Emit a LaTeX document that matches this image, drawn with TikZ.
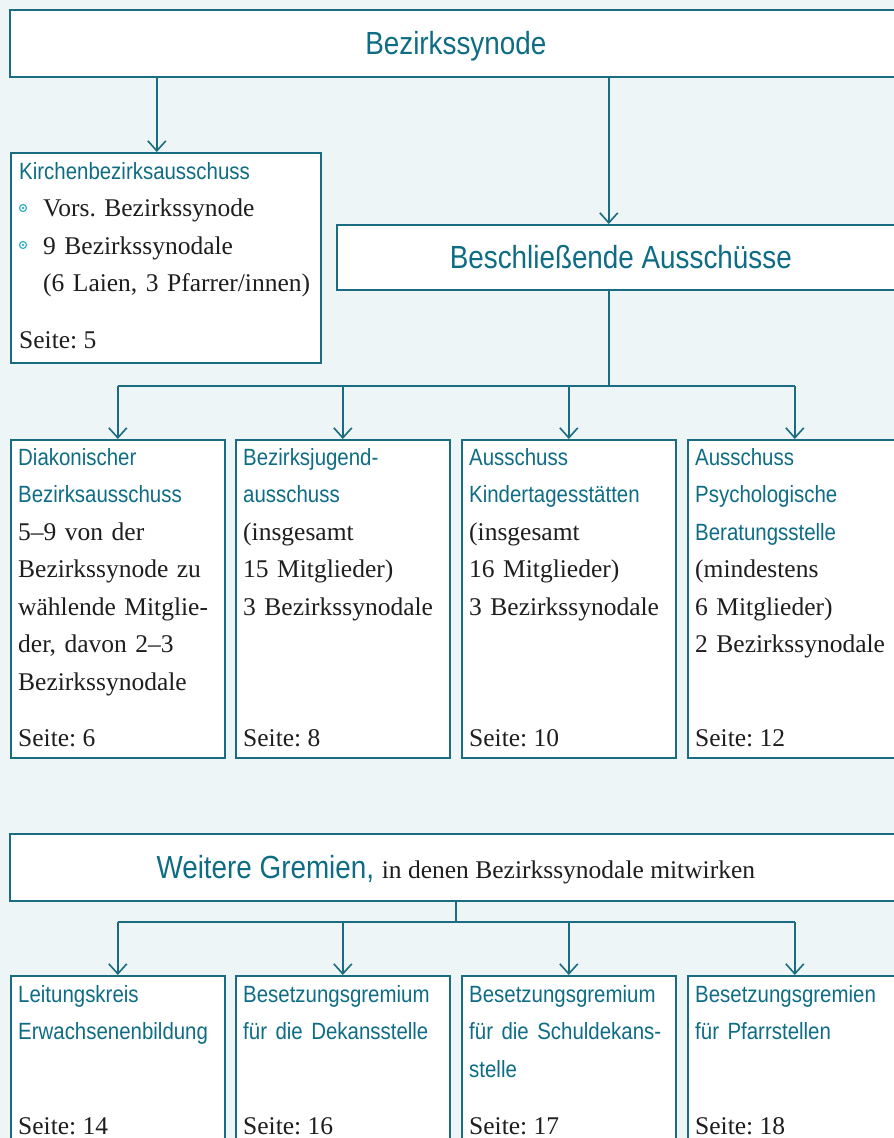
\documentclass[tikz,border=0pt]{standalone}
\usepackage{fontspec}
\setmainfont{Liberation Serif}
\newfontfamily\condsans[FakeStretch=0.87]{Liberation Sans}
\usetikzlibrary{arrows.meta}
\frenchspacing

\definecolor{bgcol}{HTML}{EDF5F7}
\definecolor{tealline}{HTML}{1A6C81}
\definecolor{tealtext}{HTML}{0E6D85}
\definecolor{bodygrey}{HTML}{1E1E1E}
\definecolor{bulcol}{HTML}{34B0C4}

\newcommand{\headfont}{\condsans\fontsize{32}{38}\selectfont}
\newcommand{\ttlfont}{\condsans\fontsize{23.5}{37.5}\selectfont\color{tealtext}}
\newcommand{\bodyfont}{\rmfamily\fontsize{25.5}{37.5}\selectfont}

\tikzset{
  box/.style={draw=tealline, fill=white, line width=1.6pt, anchor=north west, inner sep=0pt},
  headbox/.style={box, font=\headfont, text=tealtext, minimum height=67pt,
    text height=23pt, text depth=0pt},
  colbox/.style={box, minimum width=214pt},
  txt/.style={anchor=base west, inner sep=0pt, text width=212pt, align=left,
    font=\bodyfont, text=bodygrey},
  seite/.style={anchor=base west, inner sep=0pt, font=\bodyfont, text=bodygrey},
  conn/.style={draw=tealline, line width=1.6pt},
  arr/.style={conn, -{Straight Barb[length=10pt,width=18pt]}},
  bullet/.style={draw=bulcol, line width=1.2pt}
}

\begin{document}
\begin{tikzpicture}[x=1pt, y=-1pt]
  \useasboundingbox (0,0) rectangle (894,1138);
  \clip (0,0) rectangle (894,1138);
  \fill[bgcol] (0,0) rectangle (894,1138);

  % oben
  \node[headbox, minimum width=892pt] (syn) at (9,9) {Bezirkssynode};
  \node[box, minimum width=310pt, minimum height=210pt] (kba) at (10,152) {};
  \node[headbox, minimum width=568pt, minimum height=65pt] (bes) at (336,224)
    {Beschließende Ausschüsse};

  \node[txt, text width=305pt] (kbaT) at ([xshift=9pt,yshift=-27pt]kba.north west)
    {{\ttlfont Kirchenbezirksausschuss}\\
     \hspace*{24pt}Vors. Bezirkssynode\\
     \hspace*{24pt}9 Bezirkssynodale\\
     \hspace*{24pt}(6 Laien, 3 Pfarrer/innen)};
  \node[seite] (kbaS) at ([xshift=9pt,yshift=15pt]kba.south west) {Seite: 5};
  \draw[bullet] (23,208) circle (3.5pt);
  \fill[bulcol] (23,208) circle (1.4pt);
  \draw[bullet] (23,245) circle (3.5pt);
  \fill[bulcol] (23,245) circle (1.4pt);

  % beschliessende Ausschuesse
  \node[colbox, minimum height=318pt] (dia) at (10,439) {};
  \node[colbox, minimum height=318pt] (jug) at (235,439) {};
  \node[colbox, minimum height=318pt] (kita) at (461,439) {};
  \node[colbox, minimum height=318pt] (psy) at (687,439) {};

  \node[txt] (diaT) at ([xshift=8pt,yshift=-26pt]dia.north west)
    {{\ttlfont Diakonischer\\Bezirksausschuss}\\
     5--9 von der\\Bezirkssynode zu\\wählende Mitglie-\\der, davon 2--3\\Bezirkssynodale};
  \node[txt] (jugT) at ([xshift=8pt,yshift=-26pt]jug.north west)
    {{\ttlfont Bezirksjugend-\\ausschuss}\\
     (insgesamt\\15 Mitglieder)\\3 Bezirkssynodale};
  \node[txt] (kitaT) at ([xshift=8pt,yshift=-26pt]kita.north west)
    {{\ttlfont Ausschuss\\Kindertagesstätten}\\
     (insgesamt\\16 Mitglieder)\\3 Bezirkssynodale};
  \node[txt] (psyT) at ([xshift=8pt,yshift=-26pt]psy.north west)
    {{\ttlfont Ausschuss\\Psychologische\\Beratungsstelle}\\
     (mindestens\\6 Mitglieder)\\2 Bezirkssynodale};

  \node[seite] (diaS) at ([xshift=8pt,yshift=12pt]dia.south west) {Seite: 6};
  \node[seite] (jugS) at ([xshift=8pt,yshift=12pt]jug.south west) {Seite: 8};
  \node[seite] (kitaS) at ([xshift=8pt,yshift=12pt]kita.south west) {Seite: 10};
  \node[seite] (psyS) at ([xshift=8pt,yshift=12pt]psy.south west) {Seite: 12};

  % weitere Gremien
  \node[headbox, minimum width=892pt] (wei) at (9,833)
    {Weitere Gremien, {\bodyfont\color{bodygrey}in denen Bezirkssynodale mitwirken}};

  \node[colbox, minimum height=170pt] (leit) at (10,975) {};
  \node[colbox, minimum height=170pt] (dek) at (235,975) {};
  \node[colbox, minimum height=170pt] (sdek) at (461,975) {};
  \node[colbox, minimum height=170pt] (pfa) at (687,975) {};

  \node[txt] (leitT) at ([xshift=8pt,yshift=-27pt]leit.north west)
    {{\ttlfont Leitungskreis\\Erwachsenenbildung}};
  \node[txt] (dekT) at ([xshift=8pt,yshift=-27pt]dek.north west)
    {{\ttlfont Besetzungsgremium\\für die Dekansstelle}};
  \node[txt] (sdekT) at ([xshift=8pt,yshift=-27pt]sdek.north west)
    {{\ttlfont Besetzungsgremium\\für die Schuldekans-\\stelle}};
  \node[txt] (pfaT) at ([xshift=8pt,yshift=-27pt]pfa.north west)
    {{\ttlfont Besetzungsgremien\\für Pfarrstellen}};

  \node[seite] (leitS) at ([xshift=8pt,yshift=12pt]leit.south west) {Seite: 14};
  \node[seite] (dekS) at ([xshift=8pt,yshift=12pt]dek.south west) {Seite: 16};
  \node[seite] (sdekS) at ([xshift=8pt,yshift=12pt]sdek.south west) {Seite: 17};
  \node[seite] (pfaS) at ([xshift=8pt,yshift=12pt]pfa.south west) {Seite: 18};

  % Verbindungen
  \coordinate (branchA) at (0,386);
  \coordinate (branchB) at (0,922);
  \draw[arr] ([xshift=-9pt]kba.north |- syn.south) -- ([xshift=-9pt]kba.north);
  \draw[arr] ([xshift=-12pt]bes.north |- syn.south) -- ([xshift=-12pt]bes.north);
  \draw[conn] ([xshift=-12pt]bes.south) -- ([xshift=-12pt]bes.south |- branchA);
  \draw[conn] (dia.north |- branchA) -- (psy.north |- branchA);
  \foreach \n in {dia,jug,kita,psy}
    \draw[arr] (\n.north |- branchA) -- (\n.north);
  \draw[conn] (wei.south) -- (wei.south |- branchB);
  \draw[conn] (leit.north |- branchB) -- (pfa.north |- branchB);
  \foreach \n in {leit,dek,sdek,pfa}
    \draw[arr] (\n.north |- branchB) -- (\n.north);
\end{tikzpicture}
\end{document}
